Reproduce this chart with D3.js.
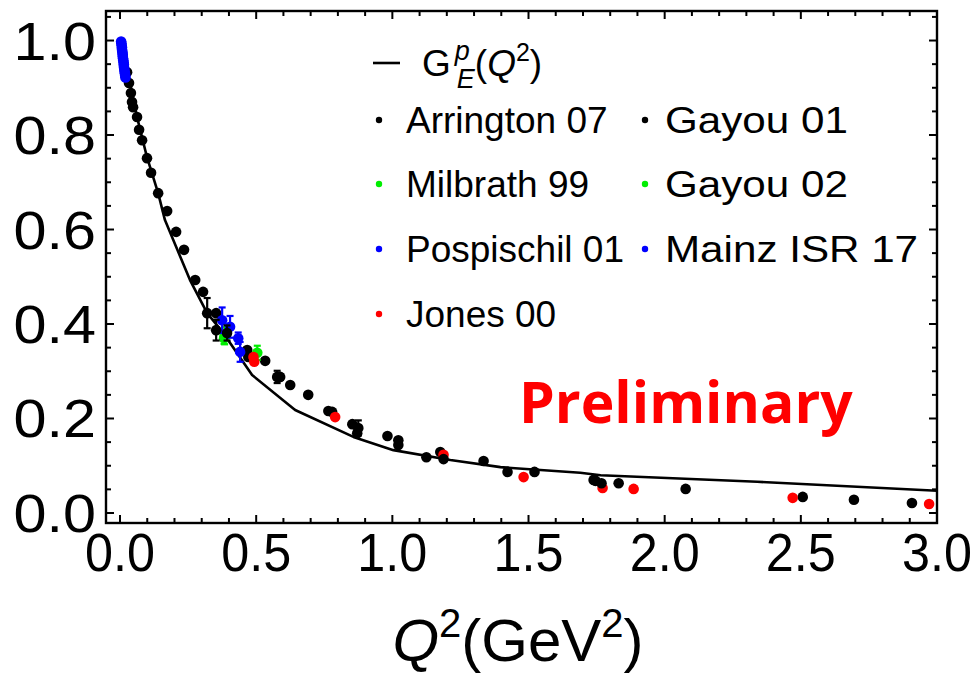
<!DOCTYPE html>
<html><head><meta charset="utf-8">
<script src="https://cdn.jsdelivr.net/npm/d3@7"></script>
<style>body{margin:0;background:#fff}svg{display:block}</style>
</head><body>
<svg id="c" width="977" height="676"></svg>
<script>
// ---------------- data ----------------
const curveQ2 = [0, 0.037, 0.0625, 0.099, 0.14, 0.165, 0.257, 0.32, 0.379, 0.485, 0.643, 0.857, 1.004, 1.213, 1.397, 1.69, 1.765, 2.34, 3.0];
const curveGE = [1.0, 0.910, 0.838, 0.753, 0.677, 0.620, 0.493, 0.423, 0.381, 0.292, 0.218, 0.161, 0.133, 0.112, 0.097, 0.085, 0.080, 0.066, 0.047];

const arringtonQ2 = [0.026,0.033,0.040,0.044,0.048,0.0625,0.070,0.081,0.099,0.114,0.140,0.173,0.206,0.235,0.276,0.305,0.353,0.467,0.471,0.533,0.625,0.691,0.765,0.779,0.853,0.982,1.022,1.125,1.176,1.335,1.423,1.522,1.739,1.831,2.077,2.507,2.695,2.908];
const arringtonGE = [0.933,0.910,0.889,0.870,0.859,0.838,0.811,0.789,0.751,0.720,0.677,0.639,0.595,0.557,0.493,0.468,0.423,0.345,0.330,0.322,0.271,0.250,0.216,0.214,0.188,0.163,0.154,0.118,0.129,0.110,0.087,0.087,0.070,0.063,0.051,0.034,0.028,0.021];

const milbrathQ2 = [0.382, 0.504];
const milbrathGE = [0.370, 0.339];
const milbrathErr = [0.012, 0.015];

const pospischilQ2 = [0.375, 0.404, 0.434, 0.441];
const pospischilGE = [0.408, 0.394, 0.370, 0.341];
const pospischilErr = [0.027, 0.023, 0.012, 0.021];

const jonesQ2 = [0.490, 0.493, 0.790, 1.188, 1.482, 1.772, 1.886, 2.470, 2.971];
const jonesGE = [0.330, 0.320, 0.203, 0.123, 0.076, 0.053, 0.051, 0.032, 0.019];

const gayou01Q2 = [0.320, 0.353, 0.393, 0.577, 0.588, 0.875, 0.871, 1.022, 1.188, 1.746, 1.768];
const gayou01GE = [0.423, 0.387, 0.381, 0.288, 0.288, 0.180, 0.169, 0.144, 0.114, 0.068, 0.063];
const gayou01Err = [0.032, 0.022, 0.016, 0.013, 0.006, 0.016, 0.006, 0.006, 0.005, 0.004, 0.004];

const gayou02Q2 = [0.384];
const gayou02GE = [0.375];
const gayou02Err = [0.018];

const mainzQ2 = [0.004,0.005,0.006,0.007,0.007,0.008,0.009,0.010,0.010,0.011,0.012,0.013,0.014,0.014,0.015,0.016,0.017,0.018,0.019,0.020];
const mainzGE = [0.998,0.994,0.990,0.986,0.982,0.978,0.974,0.970,0.966,0.962,0.958,0.954,0.950,0.946,0.942,0.938,0.934,0.930,0.926,0.922];

const xTicks = [0, 0.5, 1.0, 1.5, 2.0, 2.5, 3.0];
const yTicks = [0, 0.2, 0.4, 0.6, 0.8, 1.0];
const xMinor = d3.range(0, 3.0001, 0.1);
const yMinor = d3.range(0, 1.0501, 0.05);

const legendNames = ["Arrington 07", "Milbrath 99", "Pospischil 01", "Jones 00", "Gayou 01", "Gayou 02", "Mainz ISR 17"];
const legendColors = ["#000", "#00ee00", "#0000ff", "#ff0000", "#000", "#00ee00", "#0000ff"];

// ---------------- layout ----------------
const L = 106, R = 937, T = 11, B = 523;
const svg = d3.select("#c");
const x = d3.scaleLinear().domain([-0.0515, 3.0]).range([L, R]);
const y = d3.scaleLinear().domain([-0.0212, 1.0625]).range([B, T]);

const FONT = "'Liberation Sans', Arial, Helvetica, sans-serif";

// theory curve
const curve = curveQ2.map((q, i) => [q, curveGE[i]]);
svg.append("path")
  .datum(curve)
  .attr("d", d3.line().x(d => x(d[0])).y(d => y(d[1])))
  .attr("fill", "none").attr("stroke", "#000").attr("stroke-width", 2.6)
  .attr("stroke-linejoin", "round");

function series(qs, vs, errs, color) {
  const data = qs.map((q, i) => ({ q, v: vs[i], e: errs ? errs[i] : 0 }));
  const g = svg.append("g");
  const eb = data.filter(d => d.e > 0);
  g.selectAll("line.bar").data(eb).enter().append("line")
    .attr("x1", d => x(d.q)).attr("x2", d => x(d.q))
    .attr("y1", d => y(d.v - d.e)).attr("y2", d => y(d.v + d.e))
    .attr("stroke", color).attr("stroke-width", 2.2);
  [-1, 1].forEach(s => {
    g.selectAll("line.cap" + s).data(eb).enter().append("line")
      .attr("x1", d => x(d.q) - 3.5).attr("x2", d => x(d.q) + 3.5)
      .attr("y1", d => y(d.v + s * d.e)).attr("y2", d => y(d.v + s * d.e))
      .attr("stroke", color).attr("stroke-width", 2.2);
  });
  g.selectAll("circle").data(data).enter().append("circle")
    .attr("cx", d => x(d.q)).attr("cy", d => y(d.v)).attr("r", 5.3)
    .attr("fill", color);
}

series(gayou02Q2, gayou02GE, gayou02Err, "#00ee00");
series(arringtonQ2, arringtonGE, null, "#000");
series(milbrathQ2, milbrathGE, milbrathErr, "#00ee00");
series(pospischilQ2, pospischilGE, pospischilErr, "#0000ff");
series(jonesQ2, jonesGE, null, "#ff0000");
series(gayou01Q2, gayou01GE, gayou01Err, "#000");
series(mainzQ2, mainzGE, null, "#0000ff");

// frame
svg.append("rect").attr("x", L).attr("y", T).attr("width", R - L).attr("height", B - T)
  .attr("fill", "none").attr("stroke", "#000").attr("stroke-width", 2.4);

// ticks (inward on all sides)
const tickG = svg.append("g").attr("stroke", "#000").attr("stroke-width", 2);
const isMajorX = v => xTicks.some(t => Math.abs(t - v) < 1e-6);
const isMajorY = v => yTicks.some(t => Math.abs(t - v) < 1e-6);
xMinor.forEach(v => {
  const len = isMajorX(v) ? 8 : 5;
  tickG.append("line").attr("x1", x(v)).attr("x2", x(v)).attr("y1", B).attr("y2", B - len);
  tickG.append("line").attr("x1", x(v)).attr("x2", x(v)).attr("y1", T).attr("y2", T + len);
});
yMinor.forEach(v => {
  const len = isMajorY(v) ? 8 : 5;
  tickG.append("line").attr("y1", y(v)).attr("y2", y(v)).attr("x1", L).attr("x2", L + len);
  tickG.append("line").attr("y1", y(v)).attr("y2", y(v)).attr("x1", R).attr("x2", R - len);
});

// tick labels
svg.append("g").selectAll("text").data(yTicks).enter().append("text")
  .attr("transform", d => `translate(96,${y(d) + 19}) scale(1.12,1)`)
  .attr("text-anchor", "end").attr("font-family", FONT).attr("font-size", 53)
  .text(d => d.toFixed(1));
svg.append("g").selectAll("text").data(xTicks).enter().append("text")
  .attr("transform", d => `translate(${x(d)},571) scale(0.95,1)`)
  .attr("text-anchor", "middle").attr("font-family", FONT).attr("font-size", 53)
  .text(d => d.toFixed(1));

// axis title
const xt = svg.append("text").attr("x", 518).attr("y", 661).attr("text-anchor", "middle")
  .attr("font-family", FONT).attr("font-size", 60);
xt.append("tspan").attr("font-style", "italic").text("Q");
xt.append("tspan").attr("font-size", 40).attr("dy", -24).text("2");
xt.append("tspan").attr("dy", 24).text("(GeV");
xt.append("tspan").attr("font-size", 40).attr("dy", -24).text("2");
xt.append("tspan").attr("dy", 24).text(")");

// legend
const lg = svg.append("g").attr("font-family", FONT);
lg.append("line").attr("x1", 373).attr("x2", 400).attr("y1", 63).attr("y2", 63)
  .attr("stroke", "#000").attr("stroke-width", 2.6);
const ge = lg.append("text").attr("x", 422).attr("y", 76).attr("font-size", 37);
ge.append("tspan").text("G");
ge.append("tspan").attr("font-style", "italic").attr("font-size", 27).attr("dx", 4).attr("dy", -16).text("p");
ge.append("tspan").attr("font-style", "italic").attr("font-size", 27).attr("dx", -13).attr("dy", 28).text("E");
ge.append("tspan").attr("dy", -12).text("(");
ge.append("tspan").attr("font-style", "italic").text("Q");
ge.append("tspan").attr("font-size", 25).attr("dy", -15).text("2");
ge.append("tspan").attr("dy", 15).text(")");

const legendCol = [0, 0, 0, 0, 1, 1, 1];
const legendRow = [0, 1, 2, 3, 0, 1, 2];
const colDot = [379, 645], colText = [406, 665];
const colFont = [37, 37];
const colStretch = [1, 1.14];
const rowY = [120, 184, 249, 314];
legendNames.forEach((n, i) => {
  const c = legendCol[i];
  const cy = rowY[legendRow[i]];
  lg.append("circle").attr("cx", colDot[c]).attr("cy", cy).attr("r", 3.2).attr("fill", legendColors[i]);
  lg.append("text").attr("transform", `translate(${colText[c]},${cy + 13}) scale(${colStretch[c]},1)`)
    .attr("font-size", colFont[c]).text(n);
});

// Preliminary
svg.append("text").attr("x", 519).attr("y", 423)
  .attr("font-family", "'Open Sans', 'Liberation Sans', Arial, sans-serif").attr("font-weight", "bold")
  .attr("font-size", 57).attr("fill", "#ff0000").text("Preliminary");
</script>
</body></html>
